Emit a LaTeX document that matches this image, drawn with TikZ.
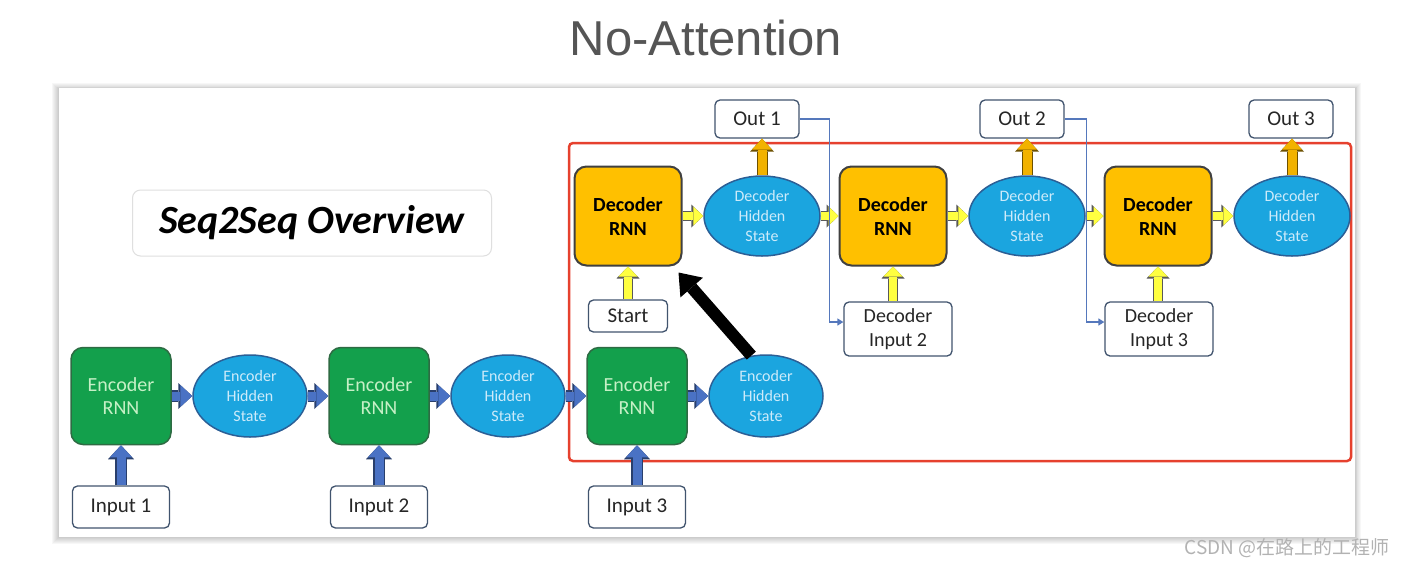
\documentclass[tikz,border=0pt]{standalone}
\usepackage{fontspec}
\setmainfont{Carlito}
\newfontfamily\titlefont{Liberation Sans}
\newfontfamily\cjk{Noto Sans CJK SC}
\usetikzlibrary{arrows.meta,shapes.geometric}
\definecolor{encgreen}{HTML}{13A04C}
\definecolor{encedge}{HTML}{2E6B43}
\definecolor{enctext}{HTML}{C6F0C6}
\definecolor{hidblue}{HTML}{1BA5DF}
\definecolor{hidedge}{HTML}{2B5F96}
\definecolor{hidtext}{HTML}{CDEBFA}
\definecolor{decorange}{HTML}{FFC000}
\definecolor{boxedge}{HTML}{41546E}
\definecolor{arrblue}{HTML}{4A72C4}
\definecolor{arryellow}{HTML}{FFFF40}
\definecolor{arrorange}{HTML}{F2B200}
\definecolor{fbblue}{HTML}{5578BC}
\definecolor{redframe}{HTML}{E6412E}
\definecolor{titlegray}{HTML}{555555}
\tikzset{
  encarr/.style={draw=arrblue, line width=9pt, -{Triangle[width=22pt,length=12pt,line width=0pt]},
    preaction={draw=arrblue!55!black, line width=11.5pt, -{Triangle[width=26pt,length=14pt,line width=0pt]}}},
  yelarr/.style={draw=arryellow, line width=8pt, -{Triangle[width=19pt,length=10pt,line width=0pt]},
    preaction={draw=black!65, line width=10.5pt, -{Triangle[width=23pt,length=12pt,line width=0pt]}}},
  orarr/.style={draw=arrorange, line width=9pt, -{Triangle[width=20pt,length=11pt,line width=0pt]},
    preaction={draw=arrorange!45!black, line width=11pt, -{Triangle[width=24pt,length=13pt,line width=0pt]}}},
  blkarr/.style={draw=black, line width=12pt, -{Triangle[width=30pt,length=20pt,line width=0pt]}},
  fb/.style={draw=fbblue, line width=1.6pt, -{Triangle[width=7pt,length=6pt]}}
}
\begin{document}
\begin{tikzpicture}[x=1pt,y=-1pt,
  enc/.style={draw=encedge, fill=encgreen, line width=1.5pt, rounded corners=12pt,
    minimum width=100pt, minimum height=97pt, align=center, text=enctext,
    font=\fontsize{20}{23}\selectfont},
  ehid/.style={ellipse, draw=hidedge, fill=hidblue, line width=1.5pt, inner sep=0pt,
    minimum width=114pt, minimum height=82pt, align=center, text=hidtext,
    font=\fontsize{16}{20}\selectfont},
  dec/.style={draw=black!75, fill=decorange, line width=2pt, rounded corners=12pt,
    minimum width=107pt, minimum height=99pt, align=center,
    font=\bfseries\fontsize{20}{24}\selectfont},
  inbox/.style={draw=boxedge, fill=white, line width=1.3pt, rounded corners=5pt,
    minimum width=97pt, minimum height=42pt, align=center, text=black!85,
    font=\fontsize{21}{23}\selectfont}]
\useasboundingbox (0,0) rectangle (1408,566);
% frame of the slide, soft shadow
\foreach \k in {1,...,7} {\fill[black, opacity=0.03] (59-\k,89-0.8*\k) rectangle (1355+0.8*\k,537+\k);}
\fill[white] (59,88) rectangle (1355,537);
\node[font=\titlefont\fontsize{49}{52}\selectfont, text=titlegray] (ttl) at (706,38) {No-Attention};
\node[draw=gray!25, line width=1pt, rounded corners=8pt, minimum width=359pt, minimum height=66pt,
  font=\bfseries\itshape\fontsize{40}{44}\selectfont] (ov) at (312,223) {Seq2Seq Overview};
% decoder part
\draw[redframe, line width=2.5pt, rounded corners=4pt] (569,143) rectangle (1351,461);
% encoder chain
\foreach \i/\x in {1/121, 2/379, 3/637} {
  \node[enc] (e\i) at (\x,396) {Encoder\\RNN};
  \node[ehid] (h\i) at (\x+129,396) {Encoder\\Hidden\\State};
  \node[inbox] (in\i) at (\x,507) {Input \i};
  \draw[encarr] (in\i.north) -- (e\i.south);
  \draw[encarr] (e\i.east) -- (h\i.west);
}
\draw[encarr] (h1.east) -- (e2.west);
\draw[encarr] (h2.east) -- (e3.west);
% decoder chain
\foreach \i/\x/\ox in {1/628/757, 2/893/1022, 3/1158/1291} {
  \node[dec] (d\i) at (\x,216) {Decoder\\RNN};
  \node[ehid, minimum width=116pt, minimum height=80pt] (dh\i) at (\x+134,216) {Decoder\\Hidden\\State};
  \node[inbox, minimum width=84pt, minimum height=38pt] (o\i) at (\ox,119) {Out \i};
  \draw[yelarr] (d\i.east) -- (dh\i.west);
  \draw[orarr] (dh\i.north) -- (dh\i.north |- o\i.south);
}
\draw[yelarr] (dh1.east) -- (d2.west);
\draw[yelarr] (dh2.east) -- (d3.west);
\node[inbox, minimum width=79pt, minimum height=32pt] (st) at (628,316) {Start};
\node[inbox, minimum width=108pt, minimum height=54pt, font=\fontsize{20}{24}\selectfont] (di2) at (898,329) {Decoder\\Input 2};
\node[inbox, minimum width=108pt, minimum height=54pt, font=\fontsize{20}{24}\selectfont] (di3) at (1159,329) {Decoder\\Input 3};
\draw[yelarr] (st.north) -- (d1.south);
\draw[yelarr] (d2.south |- di2.north) -- (d2.south);
\draw[yelarr] (d3.south |- di3.north) -- (d3.south);
\draw[fb] (o1.east) -- ++(30,0) |- ([yshift=7pt]di2.west);
\draw[fb] (o2.east) -- ++(22,0) |- ([yshift=7pt]di3.west);
% context goes to the first decoder
\draw[blkarr] (h3.110) -- ([xshift=-4pt,yshift=-6pt]d1.south east);
\node[anchor=east, text=gray!60, font=\cjk\fontsize{19}{21}\selectfont] (wm) at (1393,548) {CSDN @在路上的工程师};
\end{tikzpicture}
\end{document}
